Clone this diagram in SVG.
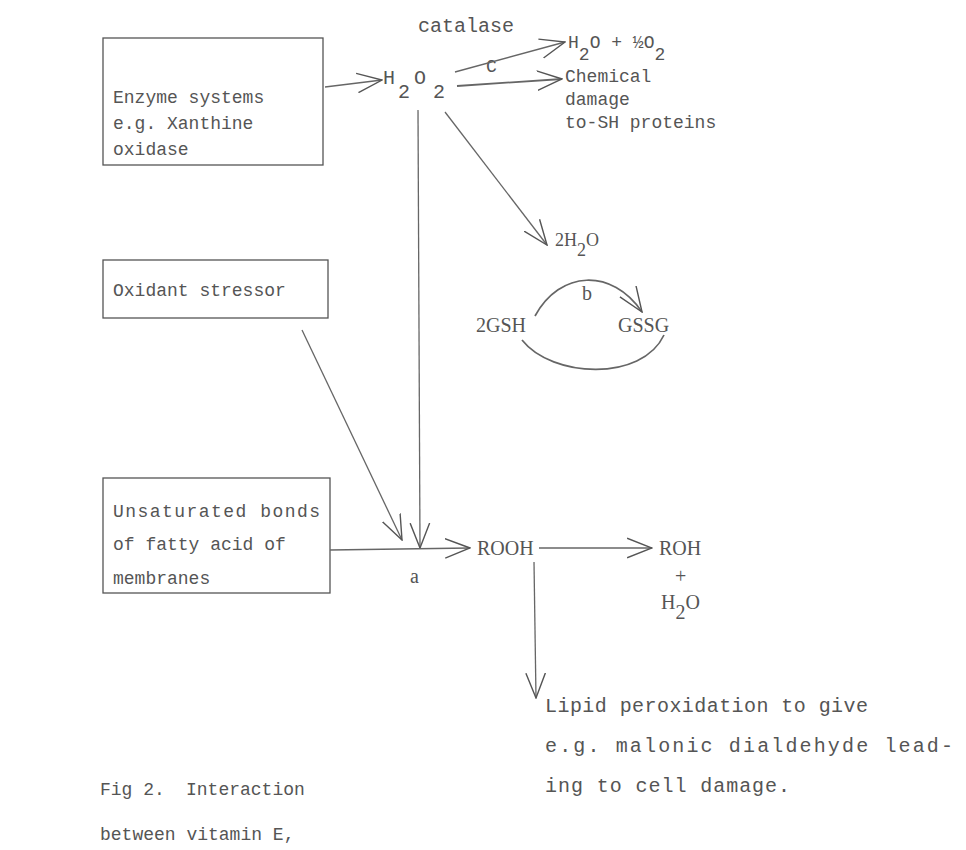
<svg xmlns="http://www.w3.org/2000/svg" width="966" height="850" viewBox="0 0 966 850">
<style>
text{font-family:"Liberation Mono","DejaVu Sans Mono",monospace;fill:#555;font-size:18px}
.big{font-size:20px}
.ser{font-family:"Liberation Serif","DejaVu Serif",serif;font-size:20px}
.box{fill:none;stroke:#555;stroke-width:1.3}
.ln{fill:none;stroke:#666;stroke-width:1.3}
</style>
<defs>
<marker id="chev" viewBox="0 0 24 24" refX="23" refY="12" markerWidth="26" markerHeight="26" markerUnits="userSpaceOnUse" orient="auto">
<path d="M0,3 L23,12 L0,21" fill="none" stroke="#555" stroke-width="1.3"/>
</marker>
</defs>
<rect width="966" height="850" fill="#fff"/>
<g id="n-enzyme">
<rect class="box" x="103" y="38" width="220" height="127"/>
<text x="113" y="103">Enzyme systems</text>
<text x="113" y="129">e.g. Xanthine</text>
<text x="113" y="155">oxidase</text>
</g>
<g id="n-oxidant">
<rect class="box" x="103" y="260" width="225" height="58"/>
<text x="113" y="296">Oxidant stressor</text>
</g>
<g id="n-unsat">
<rect class="box" x="103" y="478" width="227" height="115"/>
<text x="113" y="517" textLength="207">Unsaturated bonds</text>
<text x="113" y="550">of fatty acid of</text>
<text x="113" y="584">membranes</text>
</g>
<g id="n-h2o2">
<text x="383" y="84" class="big">H</text>
<text x="398" y="98" class="big">2</text>
<text x="414" y="84" class="big">O</text>
<text x="433" y="98" class="big">2</text>
</g>
<g id="n-catalase"><text x="418" y="32" class="big">catalase</text></g>
<g id="n-water"><text x="568" y="48">H<tspan dy="12">2</tspan><tspan dy="-12">O + ½O</tspan><tspan dy="12">2</tspan></text></g>
<g id="n-c"><text x="486" y="72">C</text></g>
<g id="n-chem">
<text x="565" y="82">Chemical</text>
<text x="565" y="105">damage</text>
<text x="565" y="128">to-SH proteins</text>
</g>
<g id="n-2h2o"><text x="555" y="246" class="ser" style="font-size:18px">2H<tspan dy="10">2</tspan><tspan dy="-10">O</tspan></text></g>
<g id="n-b"><text x="582" y="300" class="ser">b</text></g>
<g id="n-2gsh"><text x="476" y="332" class="ser">2GSH</text></g>
<g id="n-gssg"><text x="618" y="332" class="ser">GSSG</text></g>
<g id="n-rooh"><text x="477" y="555" class="ser">ROOH</text></g>
<g id="n-a"><text x="410" y="583" class="ser">a</text></g>
<g id="n-roh">
<text x="659" y="555" class="ser">ROH</text>
<text x="675" y="583" class="ser">+</text>
<text x="661" y="609" class="ser">H<tspan dy="10">2</tspan><tspan dy="-10">O</tspan></text>
</g>
<g id="n-lipid">
<text x="545" y="712" class="big" textLength="323">Lipid peroxidation to give</text>
<text x="545" y="752" class="big" textLength="408">e.g. malonic dialdehyde lead-</text>
<text x="545" y="792" class="big" textLength="245">ing to cell damage.</text>
</g>
<g id="caption">
<text x="100" y="795">Fig 2.</text>
<text x="186" y="795">Interaction</text>
<text x="100" y="840">between vitamin E,</text>
</g>
<g id="connectors">
<line class="ln" x1="325" y1="87" x2="382" y2="80" marker-end="url(#chev)"/>
<line class="ln" x1="455" y1="72" x2="565" y2="42" marker-end="url(#chev)"/>
<line class="ln" x1="457" y1="86" x2="562" y2="79" marker-end="url(#chev)" style="stroke-width:1.8"/>
<line class="ln" x1="445" y1="112" x2="547" y2="245" marker-end="url(#chev)"/>
<path class="ln" d="M535,316 C560,270 612,268 642,312" marker-end="url(#chev)" style="stroke-width:1.7"/>
<path class="ln" d="M522,340 C552,378 642,382 664,335" style="stroke-width:1.7"/>
<line class="ln" x1="418" y1="110" x2="420" y2="548" marker-end="url(#chev)"/>
<line class="ln" x1="302" y1="330" x2="402" y2="540" marker-end="url(#chev)"/>
<line class="ln" x1="330" y1="550" x2="470" y2="548" marker-end="url(#chev)"/>
<line class="ln" x1="539" y1="548" x2="652" y2="548" marker-end="url(#chev)"/>
<line class="ln" x1="534" y1="562" x2="536" y2="698" marker-end="url(#chev)"/>
</g>
</svg>
